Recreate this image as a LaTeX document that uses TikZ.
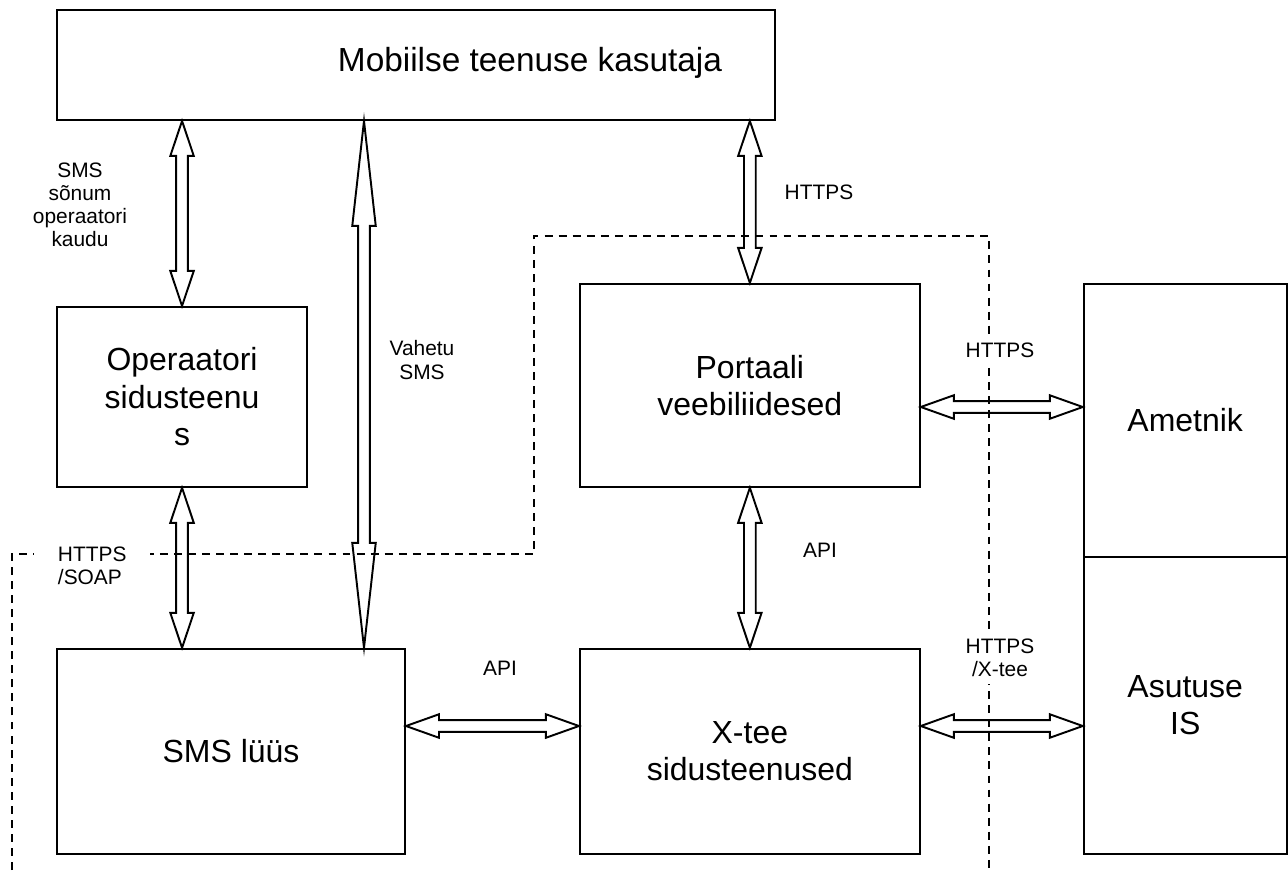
\documentclass[tikz,border=0pt]{standalone}
\usepackage{fontspec}
\setmainfont{Liberation Sans}
\usetikzlibrary{positioning, calc}

\newcommand{\arrhead}{0.235cm}
\newcommand{\arrshaft}{0.117cm}
% hollow two-headed arrow: #1 and #2 are the ends, #3 the head length
\newcommand{\biarrow}[3]{%
  \draw[arrowline] (#1)
    -- ($($(#1)!#3!(#2)$)!\arrhead!90:(#2)$)
    -- ($($(#1)!#3!(#2)$)!\arrshaft!90:(#2)$)
    -- ($($(#2)!#3!(#1)$)!\arrshaft!-90:(#1)$)
    -- ($($(#2)!#3!(#1)$)!\arrhead!-90:(#1)$)
    -- (#2)
    -- ($($(#2)!#3!(#1)$)!\arrhead!90:(#1)$)
    -- ($($(#2)!#3!(#1)$)!\arrshaft!90:(#1)$)
    -- ($($(#1)!#3!(#2)$)!\arrshaft!-90:(#2)$)
    -- ($($(#1)!#3!(#2)$)!\arrhead!-90:(#2)$)
    -- cycle;}

\begin{document}
\begin{tikzpicture}[x=0.02cm,y=-0.02cm,line width=1.1pt,
    box/.style={rectangle,draw,align=center,font=\fontsize{18.2}{21.4}\selectfont},
    lbl/.style={align=center,font=\fontsize{11.9}{13.2}\selectfont,inner sep=1pt},
    gaplbl/.style={lbl,fill=white,inner xsep=4pt,inner ysep=4pt},
    border/.style={line width=0.8pt,dash pattern=on 4.5pt off 3.5pt},
    arrowline/.style={draw,line join=miter}]

\useasboundingbox (0,0) rectangle (1288,870);

\node[box, minimum width=14.36cm, minimum height=2.2cm] (user) at (416,65) {};
\node[font=\fontsize{19}{22}\selectfont] (usertext) at (530,63) {Mobiilse teenuse kasutaja};
\node[box, minimum width=5cm, minimum height=3.6cm] (oper) [below=3.7cm of user.south west, anchor=north west] {Operaatori\\sidusteenu\\s};
\node[box, minimum width=6.96cm, minimum height=4.1cm] (sms) [below=3.2cm of oper.south west, anchor=north west] {SMS lüüs};
\node[box, minimum width=6.8cm, minimum height=4.1cm] (xtee) [right=3.46cm of sms] {X-tee\\sidusteenused};
\node[box, minimum width=6.8cm, minimum height=4.06cm] (portal) [above=3.2cm of xtee] {Portaali\\veebiliidesed};
\node[box, minimum width=4.06cm, minimum height=5.94cm] (asutus) [right=3.24cm of xtee.south east, anchor=south west] {Asutuse\\IS};
\node[box, minimum width=4.06cm, minimum height=5.46cm] (ametnik) [above=-1.1pt of asutus] {Ametnik};

% arrow ends
\coordinate (vx) at (364,0);
\coordinate (hy) at (0,726);
\coordinate (ky) at (0,407);
\coordinate (uo) at (user.south -| oper.north);
\coordinate (vt) at (user.south -| vx);
\coordinate (vb) at (sms.north -| vx);
\coordinate (up) at (user.south -| portal.north);
\coordinate (os) at (oper.south |- sms.north);
\coordinate (ha) at (sms.east |- hy);
\coordinate (hb) at (xtee.west |- hy);
\coordinate (hc) at (xtee.east |- hy);
\coordinate (hd) at (asutus.west |- hy);
\coordinate (ka) at (portal.east |- ky);
\coordinate (kb) at (ametnik.west |- ky);

\biarrow{uo}{oper.north}{0.7cm}
\biarrow{vt}{vb}{2.1cm}
\biarrow{up}{portal.north}{0.7cm}
\biarrow{oper.south}{os}{0.7cm}
\biarrow{portal.south}{xtee.north}{0.7cm}
\biarrow{ha}{hb}{0.66cm}
\biarrow{hc}{hd}{0.66cm}
\biarrow{ka}{kb}{0.66cm}

% dashed border
\coordinate (d1) at (12,870);
\coordinate (d2) at (12,554);
\coordinate (d3) at (534,554);
\coordinate (d4) at (534,236);
\coordinate (d5) at (989,236);
\coordinate (d6) at (989,870);
\draw[border] (d1) -- (d2) -- (d3) -- (d4) -- (d5) -- (d6);

\node[lbl] (smslbl) at (80,205) {SMS\\sõnum\\operaatori\\kaudu};
\node[lbl] (vahlbl) at (422,360) {Vahetu\\SMS};
\node[lbl] (webhttps) at (819,192) {HTTPS};
\node[lbl] (apiv) at (820,550) {API};
\node[lbl] (apih) at (500,668) {API};
\node[gaplbl, align=left, anchor=west, inner xsep=0.48cm] (soaplbl) at (33,566) {HTTPS\\/SOAP};
\node[gaplbl] (amhttps) at (1000,350) {HTTPS};
\node[gaplbl] (ashttps) at (1000,658) {HTTPS\\/X-tee};
\end{tikzpicture}
\end{document}
